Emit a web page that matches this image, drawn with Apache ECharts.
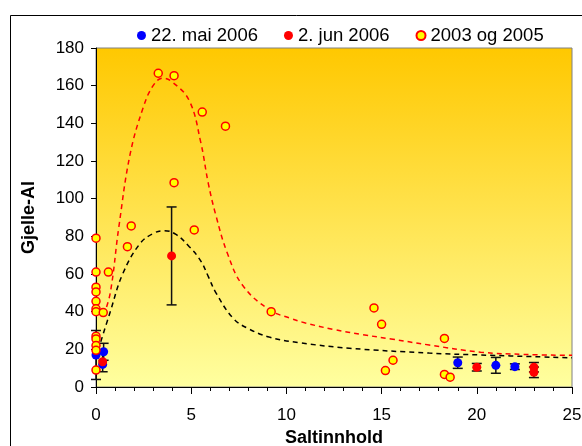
<!DOCTYPE html>
<html>
<head>
<meta charset="utf-8">
<script src="https://cdn.jsdelivr.net/npm/echarts@6/dist/echarts.min.js"></script>
<style>
  html, body { margin: 0; padding: 0; background: #fff; }
  #chart { width: 582px; height: 446px; }
</style>
</head>
<body>
<div id="chart"></div>
<script>
// 22. mai 2006: [salt, value, error]
const maiPoints = [[0, 17, 13], [0.4, 18.7, 4.5], [0.35, 12, 0], [19, 12.9, 3], [21, 11.5, 4.2], [22, 10.8, 1.5]];
// 2. jun 2006: [salt, value, error]
const junPoints = [[0.35, 13.4, 5.3], [3.97, 69.6, 26], [20, 10.5, 2], [23, 10.5, 2.5], [23, 7.8, 2.8]];
// 2003 og 2005
const oldPoints = [
  [0, 79], [0, 61], [0, 53], [0, 50.5], [0, 45.5], [0, 41.5], [0, 40], [0, 27], [0, 25.5], [0, 22], [0, 19.5], [0, 9],
  [0.38, 39.5], [0.65, 61], [1.65, 74.5], [1.85, 85.5], [3.27, 166.6], [4.1, 165.3], [4.1, 108.5], [5.16, 83.4],
  [5.58, 146], [6.8, 138.5], [9.2, 40], [14.6, 42], [15.0, 33.3], [15.2, 8.7], [15.6, 14.2],
  [18.3, 25.8], [18.3, 6.7], [18.6, 5.2]
];
// fitted curves
const redCurve = [[0.4, 38], [0.75, 50], [1.2, 85], [1.8, 124], [2.5, 149], [3.0, 160], [3.5, 164], [4.0, 162],
  [4.9, 152], [5.5, 130], [5.9, 108], [6.3, 91], [6.9, 71], [7.7, 54], [9.1, 41], [10.2, 36.5], [11, 34],
  [12.5, 30.5], [14, 27.8], [15.5, 25.5], [17.5, 22.3], [20.2, 18.5], [22.5, 17.3], [25, 16.8]];
const blackCurve = [[0.25, 24], [0.75, 40], [1.4, 60], [2.3, 76], [3.0, 81.5], [3.6, 83], [4.2, 81], [4.9, 74.5],
  [5.5, 67], [5.9, 58.6], [6.3, 50], [7.2, 36.5], [8, 31], [9.1, 26.5], [10.7, 23.5], [13.3, 20.6],
  [17.5, 18], [20.2, 17], [25, 15.5]];

const font = 'Liberation Sans, Arial, sans-serif';
const chart = echarts.init(document.getElementById('chart'));

function errorBars(api) {
  const x = api.value(0), y = api.value(1), e = api.value(2);
  if (!e) return null;
  const top = api.coord([x, y + e]);
  const bot = api.coord([x, y - e]);
  const style = { stroke: '#111', lineWidth: 1.5 };
  return {
    type: 'group',
    children: [
      { type: 'line', shape: { x1: top[0], y1: top[1], x2: bot[0], y2: bot[1] }, style },
      { type: 'line', shape: { x1: top[0] - 5, y1: top[1], x2: top[0] + 5, y2: top[1] }, style },
      { type: 'line', shape: { x1: bot[0] - 5, y1: bot[1], x2: bot[0] + 5, y2: bot[1] }, style }
    ]
  };
}

chart.setOption({
  backgroundColor: '#fff',
  animation: false,
  graphic: [{
    type: 'rect', left: 8, top: 13, silent: true,
    shape: { width: 620, height: 480 },
    style: { fill: 'none', stroke: '#000', lineWidth: 1 }
  }],
  legend: {
    left: 132, top: 21,
    itemWidth: 9, itemHeight: 9, itemGap: 26,
    textStyle: { fontFamily: font, fontSize: 18.5, color: '#000' },
    data: ['22. mai 2006', '2. jun 2006', '2003 og 2005']
  },
  grid: {
    left: 96, right: 10, top: 48, bottom: 59,
    containLabel: false,
    outerBoundsMode: 'none',
    show: true,
    borderColor: '#808080', borderWidth: 1,
    backgroundColor: {
      type: 'linear', x: 0, y: 0, x2: 0, y2: 1,
      colorStops: [{ offset: 0, color: '#ffc800' }, { offset: 1, color: '#ffffa0' }]
    }
  },
  xAxis: {
    type: 'value', min: 0, max: 25, interval: 5,
    name: 'Saltinnhold', nameLocation: 'middle', nameGap: 39,
    nameTextStyle: { fontFamily: font, fontSize: 18, fontWeight: 'bold', color: '#000' },
    axisLine: { show: true, onZero: false, lineStyle: { color: '#000', width: 1 } },
    axisTick: { show: true, inside: false, length: 7, lineStyle: { color: '#000' } },
    minorTick: { show: true, splitNumber: 5, length: 4, lineStyle: { color: '#000' } },
    splitLine: { show: false },
    axisLabel: { fontFamily: font, fontSize: 17, color: '#000', margin: 20 }
  },
  yAxis: {
    type: 'value', min: 0, max: 180, interval: 20,
    name: 'Gjelle-Al', nameLocation: 'middle', nameGap: 58,
    nameTextStyle: { fontFamily: font, fontSize: 18, fontWeight: 'bold', color: '#000' },
    axisLine: { show: true, onZero: false, lineStyle: { color: '#000', width: 1 } },
    axisTick: { show: true, inside: false, length: 5, lineStyle: { color: '#000' } },
    splitLine: { show: false },
    axisLabel: { fontFamily: font, fontSize: 17, color: '#000', margin: 12 }
  },
  series: [
    {
      type: 'line', data: redCurve, smooth: 0.4, symbol: 'none', z: 1,
      lineStyle: { color: '#ff0000', width: 1.5, type: [5, 4] }
    },
    {
      type: 'line', data: blackCurve, smooth: 0.4, symbol: 'none', z: 1,
      lineStyle: { color: '#000', width: 1.5, type: [5, 4] }
    },
    {
      type: 'custom', data: maiPoints, renderItem: (p, api) => errorBars(api), z: 2,
      encode: { x: 0, y: 1 }
    },
    {
      type: 'custom', data: junPoints, renderItem: (p, api) => errorBars(api), z: 2,
      encode: { x: 0, y: 1 }
    },
    {
      name: '22. mai 2006', type: 'scatter', data: maiPoints, symbolSize: 9, z: 3,
      itemStyle: { color: '#0000ff', opacity: 1 }
    },
    {
      name: '2. jun 2006', type: 'scatter', data: junPoints, symbolSize: 9, z: 4,
      itemStyle: { color: '#ff0000', opacity: 1 }
    },
    {
      name: '2003 og 2005', type: 'scatter', data: oldPoints, symbolSize: 8, z: 5,
      itemStyle: { color: '#ffff00', borderColor: '#ff0000', borderWidth: 1.5, opacity: 1 }
    }
  ]
});
</script>
</body>
</html>
